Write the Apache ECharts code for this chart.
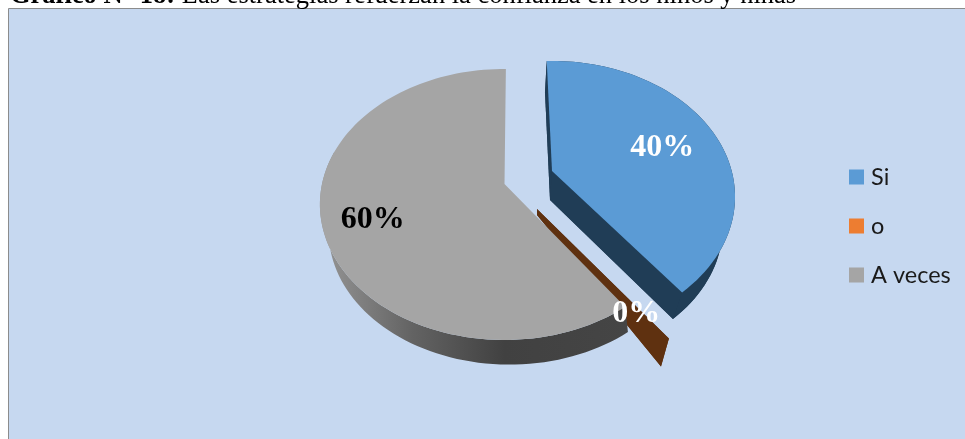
<!DOCTYPE html>
<html><head><meta charset="utf-8">
<style>html,body{margin:0;padding:0;background:#fff}#c{width:965px;height:439px}</style>
<script src="https://cdn.jsdelivr.net/npm/echarts@6/dist/echarts.min.js"></script>
</head><body><div id="c"></div>
<script>
const categories = ['Si', 'o', 'A veces'];
const percents = [40, 0, 60];

const titleBold = 'Gráfico N° 18:';
const titleRest = ' Las estrategias refuerzan la confianza en los niños y niñas';

// Appearance of each slice (perspective pie drawn through the custom series)
const legendColors = ['#5b9bd5', '#ed7d31', '#a5a5a5'];
const topColors = ['#5b9bd5', '#5f3110', '#a5a5a5'];
const wallColors = ['#203d56', '#5f3110', {
  type: 'linear', x: 0, y: 0, x2: 1, y2: 0,
  colorStops: [{offset: 0, color: '#969696'}, {offset: 0.3, color: '#636363'}, {offset: 0.6, color: '#414141'}, {offset: 1, color: '#454545'}]
}];
const labelColors = ['#fff', '#fff', '#000'];
const sliceLayout = [
  {cx: 552, cy: 171, R: 179.7, S: 131, p: 0.19, rot: -2, dx: -2, dy: 29, fx: 0.945, fy: 0.98, lx: 0.695, ly: 0.55, z2: 2, wallEnd: 360, sideWalls: true},
  {cx: 537, cy: 209, R: 185, S: 147, p: 0.151, rot: -3, dx: 0, dy: 6, fx: 0.94, fy: 1.17, lx: 0.753, ly: 0.812, z2: 1, wallEnd: 360, sideWalls: true},
  {cx: 504.5, cy: 184, R: 182.5, S: 132.4, p: 0.151, rot: 0.5, dx: 5, dy: 27, fx: 0.98, fy: 0.985, lx: 0.722, ly: 0.85, z2: 3, wallEnd: 285, sideWalls: false}
];

function project(L, deg, fx, fy, ox, oy) {
  const t = deg * Math.PI / 180;
  const w = 1 + L.p * Math.cos(t);
  return [L.cx + ox + fx * L.R * Math.sin(t) / w, L.cy + oy - fy * L.S * Math.cos(t) / w];
}
const total = percents.reduce((a, b) => a + b, 0);
const starts = percents.map((_, i) => percents.slice(0, i).reduce((a, b) => a + b, 0));

function renderSlice(i, params, api) {
  const L = sliceLayout[i];
  const value = api.value(0);
  const a0 = starts[i] / total * 360 + L.rot;
  const a1 = a0 + value / total * 360;
  const n = Math.max(1, Math.round((a1 - a0) / 2));
  const topRim = [], wallTop = [], wallBot = [];
  for (let k = 0; k <= n; k++) {
    const a = a0 + (a1 - a0) * k / n;
    topRim.push(project(L, a, 1, 1, 0, 0));
    if (a <= L.wallEnd) {
      wallTop.push(project(L, a, 1, 1, 0, 0));
      wallBot.push(project(L, a, L.fx, L.fy, L.dx, L.dy));
    }
  }
  const apexT = [L.cx, L.cy], apexB = [L.cx + L.dx, L.cy + L.dy];
  const kids = [];
  const wall = wallColors[i];
  const addPoly = (pts, fill, z2) => kids.push({type: 'polygon', shape: {points: pts}, style: {fill: fill, stroke: null}, z2: z2, silent: true});
  if (L.sideWalls) {
    const m = wallBot.length - 1;
    addPoly([apexB].concat(wallBot), wall, L.z2);
    addPoly([apexT, apexB, wallBot[0], wallTop[0]], wall, L.z2);
    addPoly([apexT, apexB, wallBot[m], wallTop[m]], wall, L.z2);
  }
  addPoly(wallTop.concat(wallBot.slice().reverse()), wall, L.z2);
  if (value > 0) addPoly([apexT].concat(topRim), topColors[i], L.z2 + 0.5);
  const mid = (a0 + a1) / 2;
  const p = project(L, mid, L.lx, L.ly, 0, 0);
  kids.push({type: 'text', x: p[0], y: p[1], z2: 10, silent: true,
    style: {text: value + '%', fill: labelColors[i], font: 'bold 32px "Liberation Serif"', align: 'center', verticalAlign: 'middle'}});
  return {type: 'group', children: kids};
}

const chart = echarts.init(document.getElementById('c'), null, {renderer: 'canvas'});
chart.setOption({
  animation: false,
  backgroundColor: '#ffffff',
  title: {
    left: 10, top: -17, padding: 0,
    text: '{b|' + titleBold + '}{r|' + titleRest + '}',
    textStyle: {rich: {
      b: {fontFamily: 'Liberation Serif', fontWeight: 'bold', fontSize: 26.5, color: '#000'},
      r: {fontFamily: 'Liberation Serif', fontWeight: 'normal', fontSize: 26.5, color: '#000'}
    }}
  },
  graphic: [{type: 'rect', z: -10, silent: true, shape: {x: 8.5, y: 8.5, width: 970, height: 450},
    style: {fill: '#c6d8f0', stroke: '#8c8c8c', lineWidth: 1}}],
  legend: {
    orient: 'vertical', left: 849, top: 165, padding: 0, itemGap: 25, itemWidth: 15, itemHeight: 15,
    icon: 'rect', selectedMode: false, data: categories,
    textStyle: {fontFamily: 'Lato', fontSize: 23.5, color: '#1a1a1a', padding: [0, 0, 0, 2]}
  },
  series: categories.map((name, i) => ({
    type: 'custom', name: name, coordinateSystem: 'none', silent: true,
    itemStyle: {color: legendColors[i]},
    data: [[percents[i]]],
    renderItem: (params, api) => renderSlice(i, params, api)
  }))
});
</script></body></html>
